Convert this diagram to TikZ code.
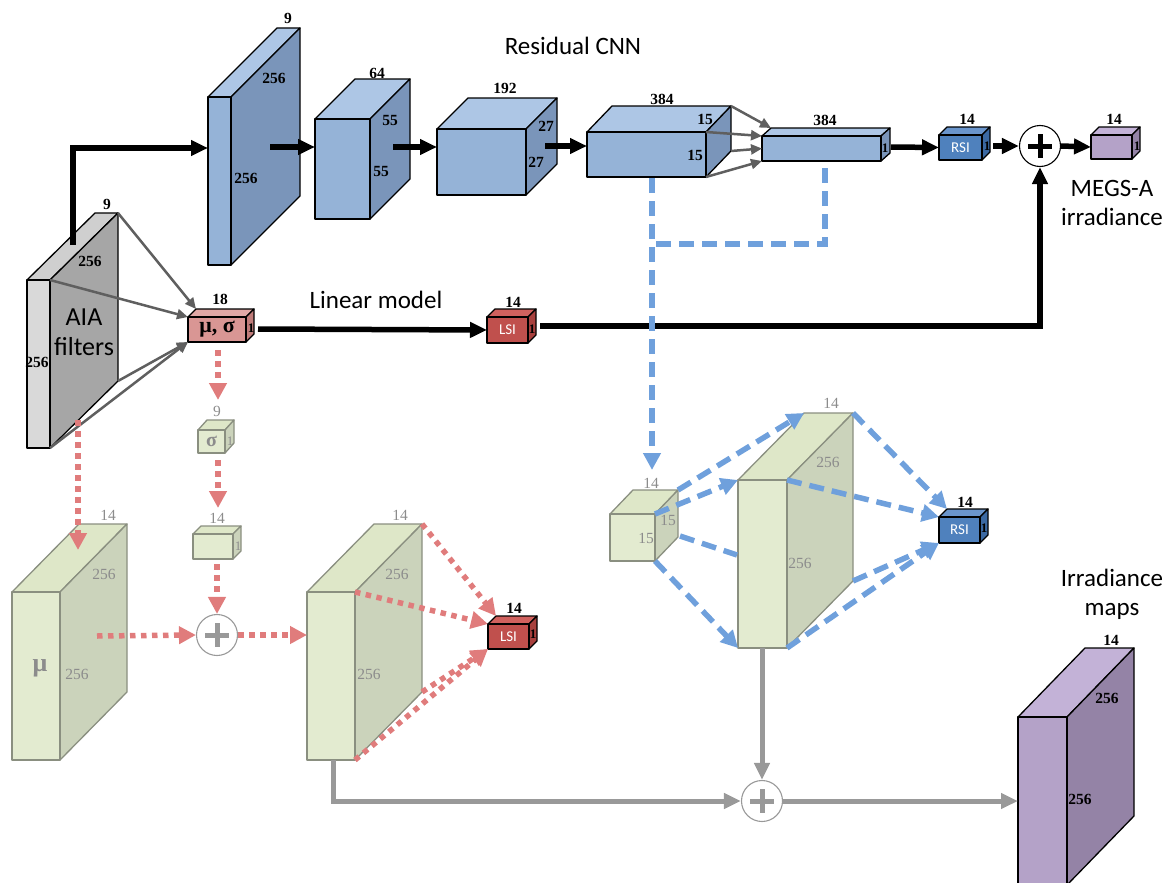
\documentclass[tikz,border=0pt]{standalone}
\usepackage{fontspec}
\setmainfont{Liberation Serif}
\newfontfamily\calib{Carlito}
\usetikzlibrary{arrows.meta,calc}
\definecolor{blF}{HTML}{95B3D7}\definecolor{blT}{HTML}{ADC6E5}\definecolor{blS}{HTML}{7A95BA}
\definecolor{grF}{HTML}{D9D9D9}\definecolor{grT}{HTML}{CFCFCF}\definecolor{grS}{HTML}{A6A6A6}
\definecolor{gnF}{HTML}{E3EBD0}\definecolor{gnT}{HTML}{DEE7C8}\definecolor{gnS}{HTML}{CBD3BB}\definecolor{gnD}{HTML}{8A8F80}
\definecolor{puF}{HTML}{B4A2C8}\definecolor{puT}{HTML}{C3B2D7}\definecolor{puS}{HTML}{9483A6}
\definecolor{rdF}{HTML}{C0504D}\definecolor{rdT}{HTML}{D0615E}\definecolor{rdS}{HTML}{A8403D}
\definecolor{pkF}{HTML}{D99694}\definecolor{pkT}{HTML}{E0A8A6}\definecolor{pkS}{HTML}{C07C7A}
\definecolor{rsF}{HTML}{4F81BD}\definecolor{rsT}{HTML}{6A95CC}\definecolor{rsS}{HTML}{3B69A3}
\definecolor{redl}{HTML}{E07C7C}\definecolor{bluel}{HTML}{6FA0DC}\definecolor{grayl}{HTML}{999999}
\definecolor{grayt}{HTML}{5F5F5F}\definecolor{gtxt}{HTML}{8C8C8C}
\newcommand{\cub}[8]{%
 \coordinate (#1-ftl) at (#2,#3);
 \coordinate (#1-ftr) at (#2+#4,#3);
 \coordinate (#1-fbl) at (#2,#3+#5);
 \coordinate (#1-fbr) at (#2+#4,#3+#5);
 \coordinate (#1-btl) at (#2+#6,#3-#7);
 \coordinate (#1-btr) at (#2+#4+#6,#3-#7);
 \coordinate (#1-bbr) at (#2+#4+#6,#3+#5-#7);
 \coordinate (#1-ml) at (#2,#3+#5/2);
 \draw[face,#8top] (#1-ftl) -- (#1-btl) -- (#1-btr) -- (#1-ftr) -- cycle;
 \draw[face,#8side] (#1-ftr) -- (#1-btr) -- (#1-bbr) -- (#1-fbr) -- cycle;
 \node[face,#8front,minimum width=#4pt,minimum height=#5pt,anchor=north west,inner sep=0pt,outer sep=0pt] (#1) at (#1-ftl) {};
}
\begin{document}
\begin{tikzpicture}[x=1pt,y=-1pt,
 face/.style={line width=1.3pt,line join=round},
 bltop/.style={draw=black,fill=blT},blside/.style={draw=black,fill=blS},blfront/.style={draw=black,fill=blF},
 grtop/.style={draw=black,fill=grT},grside/.style={draw=black,fill=grS},grfront/.style={draw=black,fill=grF},
 gntop/.style={draw=gnD,fill=gnT},gnside/.style={draw=gnD,fill=gnS},gnfront/.style={draw=gnD,fill=gnF},
 putop/.style={draw=black,fill=puT},puside/.style={draw=black,fill=puS},pufront/.style={draw=black,fill=puF},
 rdtop/.style={draw=black,fill=rdT},rdside/.style={draw=black,fill=rdS},rdfront/.style={draw=black,fill=rdF},
 pktop/.style={draw=black,fill=pkT},pkside/.style={draw=black,fill=pkS},pkfront/.style={draw=black,fill=pkF},
 rstop/.style={draw=black,fill=rsT},rsside/.style={draw=black,fill=rsS},rsfront/.style={draw=black,fill=rsF},
 num/.style={font=\bfseries\fontsize{15.5}{15.5}\selectfont,inner sep=0pt},
 gnum/.style={font=\fontsize{15.5}{15.5}\selectfont,text=gtxt,inner sep=0pt},
 one/.style={font=\bfseries\fontsize{13}{13}\selectfont,inner sep=0pt},
 gone/.style={font=\fontsize{13}{13}\selectfont,text=gtxt,inner sep=0pt},
 title/.style={font=\calib\fontsize{25}{29}\selectfont,align=center,inner sep=0pt},
 boxtxt/.style={font=\calib\fontsize{15}{15}\selectfont,text=white,inner sep=0pt},
 blk/.style={line width=5.5pt,-{Triangle[length=17pt,width=15pt]}},
 gthin/.style={line width=2.5pt,draw=grayt,-{Triangle[length=11pt,width=10pt]}},
 rdot/.style={line width=5.5pt,draw=redl,dash pattern=on 5.5pt off 5.5pt,-{Triangle[length=17pt,width=17pt,fill=redl]}},
 bdash/.style={line width=5.5pt,draw=bluel,dash pattern=on 15pt off 8pt,-{Triangle[length=17pt,width=17pt,fill=bluel]}},
 bdashl/.style={line width=5.5pt,draw=bluel,dash pattern=on 15pt off 8pt},
 gthick/.style={line width=5pt,draw=grayl,-{Triangle[length=17pt,width=15pt,fill=grayl]}},
 pluscirc/.style={circle,draw,line width=1.1pt,minimum size=41pt,inner sep=0pt,fill=white}
]
\useasboundingbox (0,0) rectangle (1167,883);
\clip (0,0) rectangle (1167,883);
% ---------- boxes ----------
\cub{aia}{27}{280}{23}{168}{68}{67}{gr}
\cub{s1}{208}{97}{23}{168}{69}{69}{bl}
\cub{b2}{315}{119}{55}{100}{40}{40}{bl}
\cub{b3}{437}{129}{89}{66}{31}{31}{bl}
\cub{b4}{587}{132}{119}{45}{25}{26}{bl}
\cub{b5}{762}{136}{119}{25}{9}{8}{bl}
\cub{rsia}{939}{135}{43}{25}{8}{8}{rs}
\cub{meg}{1091}{135}{41}{24}{8}{8}{pu}
\cub{mus}{188}{317}{58}{25}{8}{8}{pk}
\cub{lsia}{487}{317}{41}{26}{8}{8}{rd}
\cub{sig}{198}{430}{27}{23}{9}{10}{gn}
\cub{sm}{193}{534}{40}{25}{8}{8}{gn}
\cub{mu}{12}{592}{48}{168}{67}{68}{gn}
\cub{s2}{307}{592}{48}{168}{67}{68}{gn}
\cub{lsib}{488}{624}{41}{25}{8}{8}{rd}
\cub{c15}{610}{514}{45}{47}{23}{24}{gn}
\cub{s3}{738}{480}{49}{168}{66}{67}{gn}
\cub{rsib}{939}{517}{41}{26}{8}{8}{rs}
\cub{ir}{1018}{717}{49}{168}{67}{69}{pu}
% plus nodes
\node[pluscirc,draw=black] (p1) at (1040,146) {};
\draw[line width=5pt] (p1.center) ++(-12,0) -- ++(24,0) (p1.center) ++(0,-12) -- ++(0,24);
\node[pluscirc,draw=grayl] (p2) at (217,635) {};
\draw[line width=5pt,grayl] (p2.center) ++(-12,0) -- ++(24,0) (p2.center) ++(0,-12) -- ++(0,24);
\node[pluscirc,draw=grayl] (p3) at (762,801) {};
\draw[line width=5pt,grayl] (p3.center) ++(-12,0) -- ++(24,0) (p3.center) ++(0,-12) -- ++(0,24);
% ---------- helper coordinates ----------
\coordinate (a0) at (73,245);
\coordinate (a1) at (208,148);
\coordinate (s1o) at (270,147);  \coordinate (b2i) at (315,147);
\coordinate (b2o) at (393,147);  \coordinate (b3i) at (437,147);
\coordinate (b3o) at (545,146);  \coordinate (b4i) at (587,146);
\coordinate (b5o) at (891,147);
\coordinate (rso) at (993,146);
\coordinate (muso) at (258,329);
\coordinate (lso) at (540,326);
\coordinate (b4d) at (652,178);  \coordinate (c15i) at (652,470);
\coordinate (b5d) at (825,168);  \coordinate (bj) at (652,244);
\coordinate (c15m) at (680,536); \coordinate (s3m) at (737,555);
\coordinate (muso2) at (218,350); \coordinate (sigi) at (218,400);
\coordinate (sigo) at (218,460); \coordinate (smi) at (218,508);
\coordinate (smo) at (217,564);
\coordinate (aiad) at (78,420); \coordinate (mui) at (78,550);
\coordinate (muo) at (97,636); \coordinate (s2i) at (307,635);
\coordinate (s2d) at (333,760);
\coordinate (s3d) at (762,648);
\coordinate (iri) at (1018,801);
% ---------- black connectors ----------
\draw[blk] (a0) |- (a1);
\draw[blk] (s1o) -- (b2i);
\draw[blk] (b2o) -- (b3i);
\draw[blk] (b3o) -- (b4i);
\draw[blk] (b5o) -- (rsia.west);
\draw[blk] (rso) -- (p1.west);
\draw[blk] (p1.east) -- (meg.west);
\draw[blk] (muso) -- (lsia.west);
\draw[blk] (lso) -| (p1.south);
% ---------- gray thin ----------
\draw[gthin] (aia-btr) -- (mus-btl);
\draw[gthin] (aia-ftr) -- (mus-ftl);
\draw[gthin] (aia-bbr) -- (mus-fbl);
\draw[gthin] (aia-fbr) -- (mus-fbl);
\draw[gthin] (b4-btr) -- (b5-btl);
\draw[gthin] (b4-ftr) -- (b5-ftl);
\draw[gthin] (b4-bbr) -- (b5-ml);
\draw[gthin] (b4-fbr) -- (b5-fbl);
% ---------- blue dashed ----------
\draw[bdash] (b4d) -- (c15i);
\draw[bdashl] (b5d) |- (bj);
\draw[bdash] (c15-btr) -- (s3-btl);
\draw[bdash] (c15-ftr) -- (s3-ftl);
\draw[bdashl] (c15m) -- (s3m);
\draw[bdash] (c15-fbr) -- (s3-fbl);
\draw[bdash] (s3-btr) -- (rsib-btl);
\draw[bdash] (s3-ftr) -- (rsib-ftl);
\draw[bdash] (s3-bbr) -- (rsib-fbl);
\draw[bdash] (s3-fbr) -- (rsib-fbl);
% ---------- red dotted ----------
\draw[rdot] (muso2) -- (sigi);
\draw[rdot] (sigo) -- (smi);
\draw[rdot] (smo) -- (p2.north);
\draw[rdot] (aiad) -- (mui);
\draw[rdot] (muo) -- (p2.west);
\draw[rdot] (p2.east) -- (s2i);
\draw[rdot] (s2-btr) -- (lsib-btl);
\draw[rdot] (s2-ftr) -- (lsib-ftl);
\draw[rdot] (s2-bbr) -- (lsib-fbl);
\draw[rdot] (s2-fbr) -- (lsib-fbl);
% ---------- gray thick ----------
\draw[gthick] (s2d) |- (p3.west);
\draw[gthick] (s3d) -- (p3.north);
\draw[gthick] (p3.east) -- (iri);
% ---------- labels ----------
\node[title] (t1) at (573,46) {Residual CNN};
\node[title] (t2) at (376,300) {Linear model};
\node[title,font=\calib\fontsize{26}{30}\selectfont] (t3) at (84,332) {AIA\\filters};
\node[title] (t4) at (1112,203) {MEGS-A\\irradiance};
\node[title] (t5) at (1112,594) {Irradiance\\maps};
\node[num] (l1) at (107,204) {9};
\node[num] (l2) at (90,261) {256};
\node[num] (l3) at (37,362) {256};
\node[num] (l4) at (288,18) {9};
\node[num] (l5) at (274,78) {256};
\node[num] (l6) at (246,178) {256};
\node[num] (l7) at (377,73) {64};
\node[num] (l8) at (390,121) {55};
\node[num] (l9) at (381,171) {55};
\node[num] (l10) at (505,88) {192};
\node[num] (l11) at (546,126) {27};
\node[num] (l12) at (536,162) {27};
\node[num] (l13) at (662,99) {384};
\node[num] (l14) at (705,119) {15};
\node[num] (l15) at (695,155) {15};
\node[num] (l16) at (825,120) {384};
\node[one] (l17) at (885,148) {1};
\node[num] (l18) at (967,119) {14};
\node[one] (l19) at (987,146) {1};
\node[boxtxt] (l20) at (rsia.center) {RSI};
\node[num] (l21) at (1114,119) {14};
\node[one] (l22) at (1137,146) {1};
\node[num] (l23) at (220,299) {18};
\node[one] (l24) at (251,328) {1};
\node[font=\bfseries\fontsize{22}{22}\selectfont,inner sep=0pt] (l25) at (mus.center) {μ, σ};
\node[num] (l26) at (513,302) {14};
\node[one] (l27) at (532,329) {1};
\node[boxtxt] (l28) at (lsia.center) {LSI};
\node[gnum] (l29) at (217,411) {9};
\node[gone] (l30) at (230,441) {1};
\node[font=\bfseries\fontsize{20}{20}\selectfont,text=gtxt,inner sep=0pt] (l31) at (sig.center) {σ};
\node[gnum] (l32) at (217,518) {14};
\node[gone] (l33) at (238,546) {1};
\node[gnum] (l34) at (108,515) {14};
\node[gnum] (l35) at (104,574) {256};
\node[gnum] (l36) at (77,674) {256};
\node[font=\bfseries\fontsize{26}{26}\selectfont,text=gtxt,inner sep=0pt] (l37) at (40,668) {μ};
\node[gnum] (l38) at (400,515) {14};
\node[gnum] (l39) at (397,574) {256};
\node[gnum] (l40) at (369,674) {256};
\node[num] (l41) at (514,608) {14};
\node[one] (l42) at (533,634) {1};
\node[boxtxt] (l43) at (lsib.center) {LSI};
\node[gnum] (l44) at (651,483) {14};
\node[gnum] (l45) at (668,520) {15};
\node[gnum] (l46) at (646,538) {15};
\node[gnum] (l47) at (831,403) {14};
\node[gnum] (l48) at (828,462) {256};
\node[gnum] (l49) at (800,563) {256};
\node[num] (l50) at (965,502) {14};
\node[one] (l51) at (984,528) {1};
\node[boxtxt] (l52) at (rsib.center) {RSI};
\node[num] (l53) at (1111,640) {14};
\node[num] (l54) at (1107,698) {256};
\node[num] (l55) at (1080,799) {256};
\end{tikzpicture}
\end{document}
